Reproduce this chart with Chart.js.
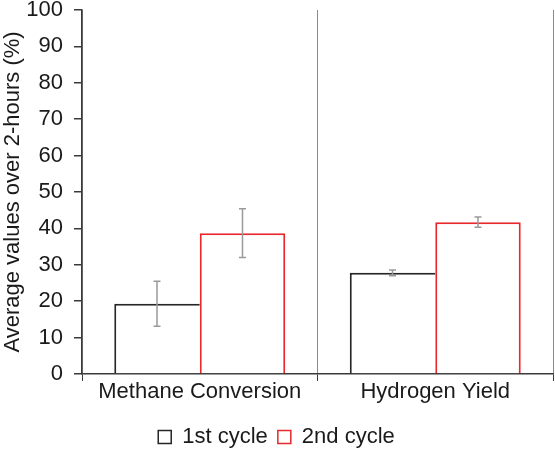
<!DOCTYPE html>
<html>
<head>
<meta charset="utf-8">
<script src="https://cdn.jsdelivr.net/npm/chart.js@4/dist/chart.umd.min.js"></script>
<style>
  html, body { margin: 0; padding: 0; background: #fff; }
  #wrap { width: 555px; height: 450px; }
</style>
</head>
<body>
<div id="wrap"><canvas id="cycleChart"></canvas></div>
<script>
// Methane conversion / hydrogen yield, two cycles, with error bars

const CATEGORIES = ['Methane Conversion', 'Hydrogen Yield'];
const CYCLE1 = [19.3, 27.8];
const CYCLE1_ERR = [6.2, 0.8];
const CYCLE2 = [38.7, 41.7];
const CYCLE2_ERR = [6.7, 1.4];
const Y_TICKS = [0, 10, 20, 30, 40, 50, 60, 70, 80, 90, 100];

const FONT = '"Liberation Sans", Arial, sans-serif';
const TEXT = '#1a1a1a';
const AXIS = '#3a3a3a';

// draws the grey whiskers on top of each bar
const errorBars = {
    id: 'errorBars',
    afterDatasetsDraw(chart) {
        const ctx = chart.ctx;
        const y = chart.scales.y;
        ctx.save();
        ctx.strokeStyle = '#9a9a9a';
        ctx.lineWidth = 1.5;
        chart.data.datasets.forEach((ds, i) => {
            const meta = chart.getDatasetMeta(i);
            meta.data.forEach((bar, j) => {
                const v = ds.data[j];
                const e = ds.errors[j];
                const x = bar.x;
                const top = y.getPixelForValue(v + e);
                const bot = y.getPixelForValue(v - e);
                ctx.beginPath();
                ctx.moveTo(x, top); ctx.lineTo(x, bot);
                ctx.moveTo(x - 3.5, top); ctx.lineTo(x + 3.5, top);
                ctx.moveTo(x - 3.5, bot); ctx.lineTo(x + 3.5, bot);
                ctx.stroke();
            });
        });
        ctx.restore();
    }
};

const chart = new Chart(document.getElementById('cycleChart'), {
    type: 'bar',
    data: {
        labels: CATEGORIES,
        datasets: [
            {
                label: '1st cycle',
                data: CYCLE1,
                errors: CYCLE1_ERR,
                backgroundColor: '#ffffff',
                borderColor: '#262626',
                borderWidth: { top: 2, left: 2, right: 0, bottom: 0 },
                borderSkipped: 'start',
            },
            {
                label: '2nd cycle',
                data: CYCLE2,
                errors: CYCLE2_ERR,
                backgroundColor: '#ffffff',
                borderColor: '#e8282b',
                borderWidth: { top: 2, left: 2, right: 2, bottom: 0 },
                borderSkipped: 'start',
            }
        ]
    },
    options: {
        responsive: true,
        maintainAspectRatio: false,
        animation: false,
        layout: { padding: { top: 10, right: 2, left: 0, bottom: -8 } },
        datasets: {
            bar: { categoryPercentage: 0.726, barPercentage: 1.0 }
        },
        scales: {
            x: {
                afterFit: s => { s.height = 42; },
                grid: {
                    offset: true,
                    color: '#8a8a8a',
                    lineWidth: 1,
                    tickLength: 7,
                    tickColor: AXIS,
                },
                border: { color: AXIS, width: 1.5 },
                ticks: {
                    color: TEXT,
                    padding: -2,
                    font: { family: FONT, size: 22 },
                    maxRotation: 0,
                }
            },
            y: {
                min: 0,
                max: 100,
                afterFit: s => { s.width = 82; s.paddingTop = 0; s.paddingBottom = 0; },
                afterBuildTicks: axis => { axis.ticks = Y_TICKS.map(v => ({ value: v })); },
                grid: {
                    drawOnChartArea: false,
                    tickLength: 8,
                    tickColor: AXIS,
                    lineWidth: 1.5,
                },
                border: { color: AXIS, width: 1.5 },
                ticks: {
                    color: TEXT,
                    padding: 11,
                    font: { family: FONT, size: 22 },
                },
                title: {
                    display: true,
                    text: 'Average values over 2-hours (%)',
                    color: TEXT,
                    padding: { top: 0, bottom: 0 },
                    font: { family: FONT, size: 22, weight: 'normal' },
                }
            }
        },
        plugins: {
            legend: {
                display: true,
                position: 'bottom',
                labels: {
                    color: TEXT,
                    boxWidth: 13,
                    boxHeight: 13,
                    padding: 10,
                    font: { family: FONT, size: 22 },
                    generateLabels: c => Chart.defaults.plugins.legend.labels.generateLabels(c)
                        .map(l => Object.assign(l, { lineWidth: 1.5 })),
                }
            },
            tooltip: { enabled: false }
        }
    },
    plugins: [errorBars]
});
</script>
</body>
</html>
